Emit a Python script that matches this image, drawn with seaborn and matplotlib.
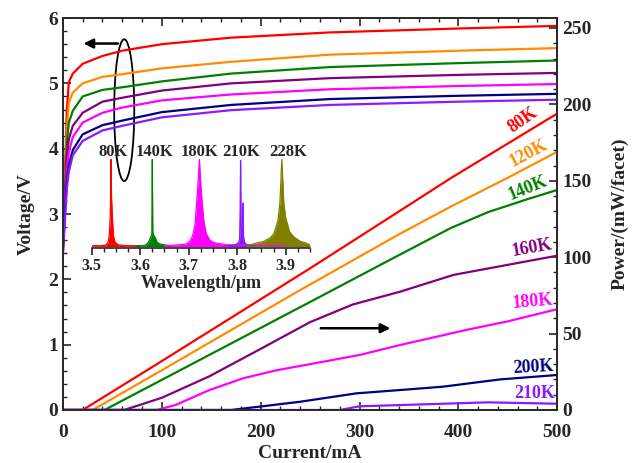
import numpy as np
import pandas as pd
import matplotlib
matplotlib.use('Agg')
import matplotlib.pyplot as plt
from matplotlib.patches import Ellipse
from matplotlib.ticker import MultipleLocator
import seaborn as sns

# ---- data ----
temps = ['80K', '120K', '140K', '160K', '180K', '200K', '210K']
colors = ['#ff0000', '#ff8c00', '#008000', '#800080', '#ff00ff', '#000080', '#8b1aff']

# voltage vs current (left axis)
current_v = [0, 2, 4, 6, 10, 20, 40, 60, 100, 170, 270, 400, 500]
volt_80 = [2.6, 3.6, 4.6, 5.02, 5.15, 5.30, 5.42, 5.50, 5.60, 5.70, 5.78, 5.84, 5.88]
volt_120 = [2.6, 3.4, 4.3, 4.70, 4.86, 5.00, 5.10, 5.14, 5.23, 5.33, 5.44, 5.50, 5.54]
volt_140 = [2.5, 3.3, 4.1, 4.40, 4.58, 4.80, 4.90, 4.94, 5.03, 5.15, 5.25, 5.31, 5.35]
volt_160 = [2.5, 3.2, 3.9, 4.15, 4.35, 4.55, 4.72, 4.78, 4.89, 5.00, 5.08, 5.13, 5.16]
volt_180 = [2.5, 3.1, 3.7, 3.95, 4.18, 4.40, 4.55, 4.63, 4.74, 4.83, 4.91, 4.96, 4.99]
volt_200 = [2.4, 3.0, 3.5, 3.75, 3.98, 4.22, 4.36, 4.43, 4.56, 4.67, 4.76, 4.81, 4.84]
volt_210 = [2.4, 2.9, 3.4, 3.65, 3.90, 4.12, 4.28, 4.35, 4.48, 4.59, 4.67, 4.72, 4.75]

# power vs current (right axis)
cur_p80 = [0, 20, 100, 250, 340, 392, 500]
pow_p80 = [0, 0, 32, 92.7, 130, 151.6, 194]
cur_p120 = [0, 30, 100, 240, 340, 392, 450, 500]
pow_p120 = [0, 0, 26, 78.5, 115, 133, 152, 169]
cur_p140 = [0, 42, 150, 250, 330, 392, 430, 470, 500]
pow_p140 = [0, 0, 36.7, 70.7, 98, 119, 129.5, 138, 144]
cur_p160 = [0, 62, 100, 148, 200, 250, 293, 341, 395, 450, 500]
pow_p160 = [0, 0, 8, 22, 40, 57.5, 69, 77.4, 88.4, 95, 101]
cur_p180 = [0, 95, 114, 148, 182, 216, 250, 300, 341, 408, 450, 500]
pow_p180 = [0, 0, 3.3, 13, 20.7, 26, 30, 36, 42.5, 52.4, 58, 66]
cur_p200 = [0, 170, 199, 240, 297, 350, 385, 442, 500]
pow_p200 = [0, 0, 2.2, 5.4, 10.9, 13.5, 15.3, 20, 22.9]
cur_p210 = [0, 280, 300, 375, 430, 500]
pow_p210 = [0, 0, 2.4, 3.9, 5.0, 4.1]

# inset spectra (normalised)
spec_labels = ['80K', '140K', '180K', '210K', '228K']
spec_colors = ['#ff0000', '#008000', '#ff00ff', '#8b1aff', '#808000']
wl_80 = [3.500, 3.520, 3.530, 3.534, 3.536, 3.538, 3.539, 3.540, 3.541, 3.543, 3.545, 3.548, 3.555, 3.570, 3.600]
in_80 = [0.01, 0.01, 0.02, 0.05, 0.12, 0.30, 0.55, 1.0, 0.55, 0.30, 0.12, 0.05, 0.02, 0.01, 0.01]
wl_140 = [3.590, 3.605, 3.612, 3.617, 3.621, 3.624, 3.625, 3.626, 3.628, 3.631, 3.635, 3.640, 3.650, 3.660]
in_140 = [0.01, 0.01, 0.02, 0.05, 0.10, 0.14, 1.0, 0.16, 0.13, 0.10, 0.05, 0.03, 0.02, 0.01]
wl_180 = [3.650, 3.680, 3.695, 3.702, 3.708, 3.713, 3.717, 3.720, 3.722, 3.724, 3.727, 3.731, 3.736, 3.744, 3.755, 3.780, 3.820, 3.870, 3.900]
in_180 = [0.01, 0.02, 0.03, 0.06, 0.12, 0.25, 0.55, 0.80, 1.0, 0.80, 0.55, 0.30, 0.15, 0.07, 0.04, 0.02, 0.015, 0.01, 0.01]
wl_210 = [3.780, 3.795, 3.802, 3.805, 3.806, 3.807, 3.808, 3.810, 3.811, 3.812, 3.813, 3.815, 3.820, 3.835]
in_210 = [0.01, 0.02, 0.04, 0.08, 0.40, 0.99, 0.25, 0.06, 0.15, 0.50, 0.12, 0.05, 0.02, 0.01]
wl_228 = [3.820, 3.840, 3.855, 3.868, 3.876, 3.884, 3.888, 3.890, 3.892, 3.894, 3.896, 3.900, 3.908, 3.917, 3.930, 3.942, 3.950]
in_228 = [0.01, 0.04, 0.06, 0.10, 0.15, 0.30, 0.50, 0.75, 1.0, 0.75, 0.50, 0.33, 0.17, 0.11, 0.06, 0.04, 0.02]
spec_label_x = [3.545, 3.630, 3.723, 3.809, 3.905]

# ---- build long tables ----
volts = [volt_80, volt_120, volt_140, volt_160, volt_180, volt_200, volt_210]
df_v = pd.concat([pd.DataFrame({'Current': current_v, 'Voltage': v, 'T': t})
                  for t, v in zip(temps, volts)], ignore_index=True)

pw = [(cur_p80, pow_p80), (cur_p120, pow_p120), (cur_p140, pow_p140), (cur_p160, pow_p160),
      (cur_p180, pow_p180), (cur_p200, pow_p200), (cur_p210, pow_p210)]
df_p = pd.concat([pd.DataFrame({'Current': c, 'Power': p, 'T': t})
                  for t, (c, p) in zip(temps, pw)], ignore_index=True)

specs = [(wl_80, in_80), (wl_140, in_140), (wl_180, in_180), (wl_210, in_210), (wl_228, in_228)]
df_s = pd.concat([pd.DataFrame({'Wavelength': w, 'Intensity': i, 'T': t})
                  for t, (w, i) in zip(spec_labels, specs)], ignore_index=True)

# ---- style ----
sns.set_style('ticks')
plt.rcParams['font.family'] = ['Liberation Serif', 'DejaVu Serif']
plt.rcParams['font.weight'] = 'bold'
plt.rcParams['axes.labelweight'] = 'bold'
plt.rcParams['xtick.direction'] = 'in'
plt.rcParams['ytick.direction'] = 'in'

fig = plt.figure(figsize=(6.42, 4.63), dpi=100)
ax = fig.add_axes([0.098, 0.1145, 0.770, 0.8465])
ax2 = ax.twinx()

palette = dict(zip(temps, colors))
sns.lineplot(data=df_v, x='Current', y='Voltage', hue='T', palette=palette,
             legend=False, lw=1.6, ax=ax)
sns.lineplot(data=df_p, x='Current', y='Power', hue='T', palette=palette,
             legend=False, lw=1.6, ax=ax2)

ax.set_xlim(0, 500)
ax.set_ylim(0, 6)
ax2.set_ylim(0, 256.5)
ax.set_xlabel('Current/mA', fontsize=14, labelpad=3)
ax.set_ylabel('Voltage/V', fontsize=14, labelpad=10)
ax2.set_ylabel('Power/(mW/facet)', fontsize=14, labelpad=14)

ax.xaxis.set_major_locator(MultipleLocator(100))
ax.xaxis.set_minor_locator(MultipleLocator(20))
ax.yaxis.set_major_locator(MultipleLocator(1))
ax.yaxis.set_minor_locator(MultipleLocator(0.2))
ax2.yaxis.set_major_locator(MultipleLocator(50))
ax2.yaxis.set_minor_locator(MultipleLocator(10))
ax.tick_params(axis='x', which='both', top=True)
ax.tick_params(axis='y', which='both', right=False)
ax.tick_params(which='major', length=6, width=1.2, labelsize=14)
ax.tick_params(which='minor', length=3, width=1)
ax.tick_params(axis='x', which='major', pad=10)
ax2.tick_params(which='major', length=6, width=1.2, labelsize=14)
ax2.tick_params(which='minor', length=3, width=1)
for a in (ax, ax2):
    for s in a.spines.values():
        s.set_linewidth(1.2)
        s.set_visible(True)

# ellipse and arrows
ax.add_patch(Ellipse((62, 4.59), 20.3, 2.17, fill=False, ec='black', lw=1.3))
ax.annotate('', xy=(18, 5.61), xytext=(58.5, 5.61),
            arrowprops=dict(arrowstyle='-|>', color='black', lw=1.8, mutation_scale=14))
ax2.annotate('', xy=(334, 53.5), xytext=(258, 53.5),
             arrowprops=dict(arrowstyle='-|>', color='black', lw=1.8, mutation_scale=14))

# temperature labels
lab_pos = [(465.5, 189.8, 35), (470.6, 168.2, 28), (470.6, 145.3, 22), (474.6, 106.0, 10),
           (474.6, 70.7, 5), (475.7, 28.1, 3), (476.7, 11.1, 0)]
for t, c, (x, y, r) in zip(temps, colors, lab_pos):
    ax2.text(x, y, t, color=c, fontsize=13, fontweight='bold', rotation=r,
             ha='center', va='center', rotation_mode='anchor')

# ---- inset ----
ins = fig.add_axes([0.1428, 0.4637, 0.340, 0.192])
ins.patch.set_alpha(0)
spal = dict(zip(spec_labels, spec_colors))
sns.lineplot(data=df_s, x='Wavelength', y='Intensity', hue='T', palette=spal,
             legend=False, lw=0.9, ax=ins)
for t, c, (w, i) in zip(spec_labels, spec_colors, specs):
    ins.fill_between(w, 0, i, color=c, lw=0)
ins.set_xlim(3.5, 3.95)
ins.set_ylim(-0.02, 1.0)
for side in ('left', 'right', 'top'):
    ins.spines[side].set_visible(False)
ins.spines['bottom'].set_linewidth(1.2)
ins.set_yticks([])
ins.xaxis.set_major_locator(MultipleLocator(0.1))
ins.xaxis.set_minor_locator(MultipleLocator(0.025))
ins.tick_params(axis='x', which='major', direction='out', length=5, width=1.2, labelsize=11.5, pad=2)
ins.tick_params(axis='x', which='minor', direction='out', length=3, width=1)
ins.set_xlabel('Wavelength/\u03bcm', fontsize=13, labelpad=1)
ins.set_ylabel('')
for t, x in zip(spec_labels, spec_label_x):
    ins.text(x, 1.09, t, fontsize=12, fontweight='bold', ha='center', va='center', clip_on=False)

fig.savefig('out.png', dpi=100)
